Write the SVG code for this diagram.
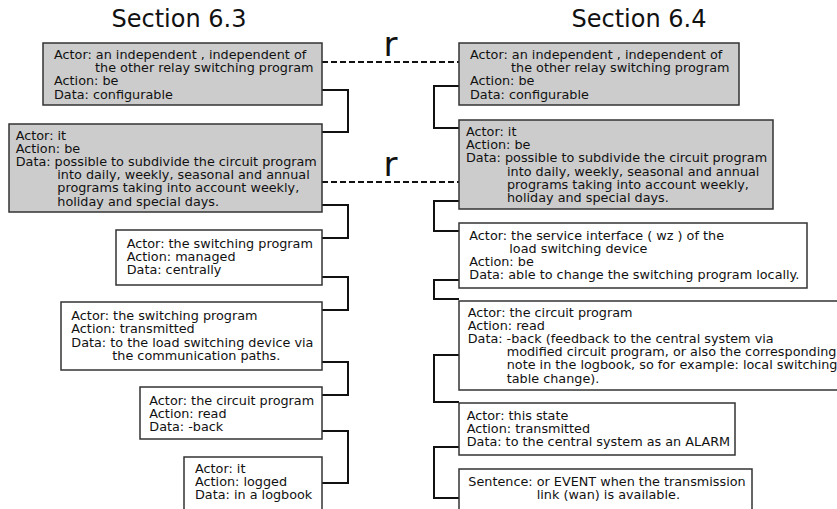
<svg xmlns="http://www.w3.org/2000/svg" width="837" height="509" viewBox="0 0 837 509">
<style>
.box{stroke:#333;stroke-width:1.5}
.g{fill:#cccccc}
.w{fill:#ffffff}
.t{font-family:"DejaVu Sans",sans-serif;font-size:12.8px;fill:#111}
.title{font-family:"DejaVu Sans",sans-serif;font-size:24px;fill:#111;text-anchor:middle}
.r{font-family:"DejaVu Sans",sans-serif;font-size:34px;fill:#111;text-anchor:middle}
.c{fill:none;stroke:#111;stroke-width:2}
.d{fill:none;stroke:#111;stroke-width:2;stroke-dasharray:6,3}
</style>
<rect x="0" y="0" width="837" height="509" fill="#fff"/>
<text class="title" x="179" y="26.5">Section 6.3</text>
<text class="title" x="639" y="26.5">Section 6.4</text>

<g id="connectors">
<path class="c" d="M322,90 H348 V132 H322"/>
<path class="c" d="M322,205 H348 V238 H322"/>
<path class="c" d="M322,277 H348 V310 H322"/>
<path class="c" d="M322,362 H348 V395 H322"/>
<path class="c" d="M322,431 H348 V483 H322"/>
<path class="c" d="M459,86 H434 V128 H459"/>
<path class="c" d="M459,201 H434 V231 H459"/>
<path class="c" d="M459,280 H434 V299 H459"/>
<path class="c" d="M459,355 H434 V402 H459"/>
<path class="c" d="M459,447 H434 V498 H459"/>
<path class="d" d="M322,62 H459"/>
<path class="d" d="M322,182 H459"/>
<text class="r" x="390.5" y="56">r</text>
<text class="r" x="390.5" y="176">r</text>
</g>

<g id="L1">
<rect class="box g" x="43" y="43" width="279" height="62"/>
<text class="t"><tspan x="54" y="59">Actor: an independent , independent of</tspan><tspan x="95" y="72.2">the other relay switching program</tspan><tspan x="54" y="85.4">Action: be</tspan><tspan x="54" y="98.6">Data: configurable</tspan></text>
</g>
<g id="L2">
<rect class="box g" x="9" y="124" width="313" height="88"/>
<text class="t"><tspan x="15.7" y="139.5">Actor: it</tspan><tspan x="15.7" y="152.7">Action: be</tspan><tspan x="15.7" y="165.9">Data: possible to subdivide the circuit program</tspan><tspan x="57.3" y="179.1">into daily, weekly, seasonal and annual</tspan><tspan x="57.3" y="192.3">programs taking into account weekly,</tspan><tspan x="57.3" y="205.5">holiday and special days.</tspan></text>
</g>
<g id="L3">
<rect class="box w" x="116" y="230" width="206" height="55"/>
<text class="t"><tspan x="126.7" y="248">Actor: the switching program</tspan><tspan x="126.7" y="261.2">Action: managed</tspan><tspan x="126.7" y="274.4">Data: centrally</tspan></text>
</g>
<g id="L4">
<rect class="box w" x="61" y="302" width="261" height="68"/>
<text class="t"><tspan x="71.3" y="320.2">Actor: the switching program</tspan><tspan x="71.3" y="333.4">Action: transmitted</tspan><tspan x="71.3" y="346.6">Data: to the load switching device via</tspan><tspan x="112.3" y="359.8">the communication paths.</tspan></text>
</g>
<g id="L5">
<rect class="box w" x="140" y="387" width="182" height="52"/>
<text class="t"><tspan x="149.3" y="405">Actor: the circuit program</tspan><tspan x="149.3" y="418.2">Action: read</tspan><tspan x="149.3" y="431.4">Data: -back</tspan></text>
</g>
<g id="L6">
<rect class="box w" x="184" y="457" width="138" height="60"/>
<text class="t"><tspan x="195" y="472.7">Actor: it</tspan><tspan x="195" y="485.9">Action: logged</tspan><tspan x="195" y="499.1">Data: in a logbook</tspan></text>
</g>

<g id="R1">
<rect class="box g" x="459" y="43" width="280" height="62"/>
<text class="t"><tspan x="470" y="59">Actor: an independent , independent of</tspan><tspan x="511" y="72.2">the other relay switching program</tspan><tspan x="470" y="85.4">Action: be</tspan><tspan x="470" y="98.6">Data: configurable</tspan></text>
</g>
<g id="R2">
<rect class="box g" x="459" y="120" width="314" height="89"/>
<text class="t"><tspan x="466" y="136">Actor: it</tspan><tspan x="466" y="149.2">Action: be</tspan><tspan x="466" y="162.4">Data: possible to subdivide the circuit program</tspan><tspan x="507" y="175.6">into daily, weekly, seasonal and annual</tspan><tspan x="507" y="188.8">programs taking into account weekly,</tspan><tspan x="507" y="202">holiday and special days.</tspan></text>
</g>
<g id="R3">
<rect class="box w" x="459" y="223" width="348" height="65"/>
<text class="t"><tspan x="469.3" y="239.5">Actor: the service interface ( wz ) of the</tspan><tspan x="509.3" y="252.7">load switching device</tspan><tspan x="469.3" y="265.9">Action: be</tspan><tspan x="469.3" y="279.1">Data: able to change the switching program locally.</tspan></text>
</g>
<g id="R4">
<rect class="box w" x="459" y="301" width="390" height="89"/>
<text class="t"><tspan x="467.7" y="316.5">Actor: the circuit program</tspan><tspan x="467.7" y="329.7">Action: read</tspan><tspan x="467.7" y="342.9">Data: -back (feedback to the central system via</tspan><tspan x="506.7" y="356.1">modified circuit program, or also the corresponding</tspan><tspan x="506.7" y="369.3">note in the logbook, so for example: local switching</tspan><tspan x="506.7" y="382.5">table change).</tspan></text>
</g>
<g id="R5">
<rect class="box w" x="459" y="403" width="276" height="52"/>
<text class="t"><tspan x="466.7" y="420">Actor: this state</tspan><tspan x="466.7" y="433.2">Action: transmitted</tspan><tspan x="466.7" y="446.4">Data: to the central system as an ALARM</tspan></text>
</g>
<g id="R6">
<rect class="box w" x="459" y="469" width="293" height="50"/>
<text class="t"><tspan x="468.3" y="486">Sentence: or EVENT when the transmission</tspan><tspan x="536.7" y="499.2">link (wan) is available.</tspan></text>
</g>
</svg>
